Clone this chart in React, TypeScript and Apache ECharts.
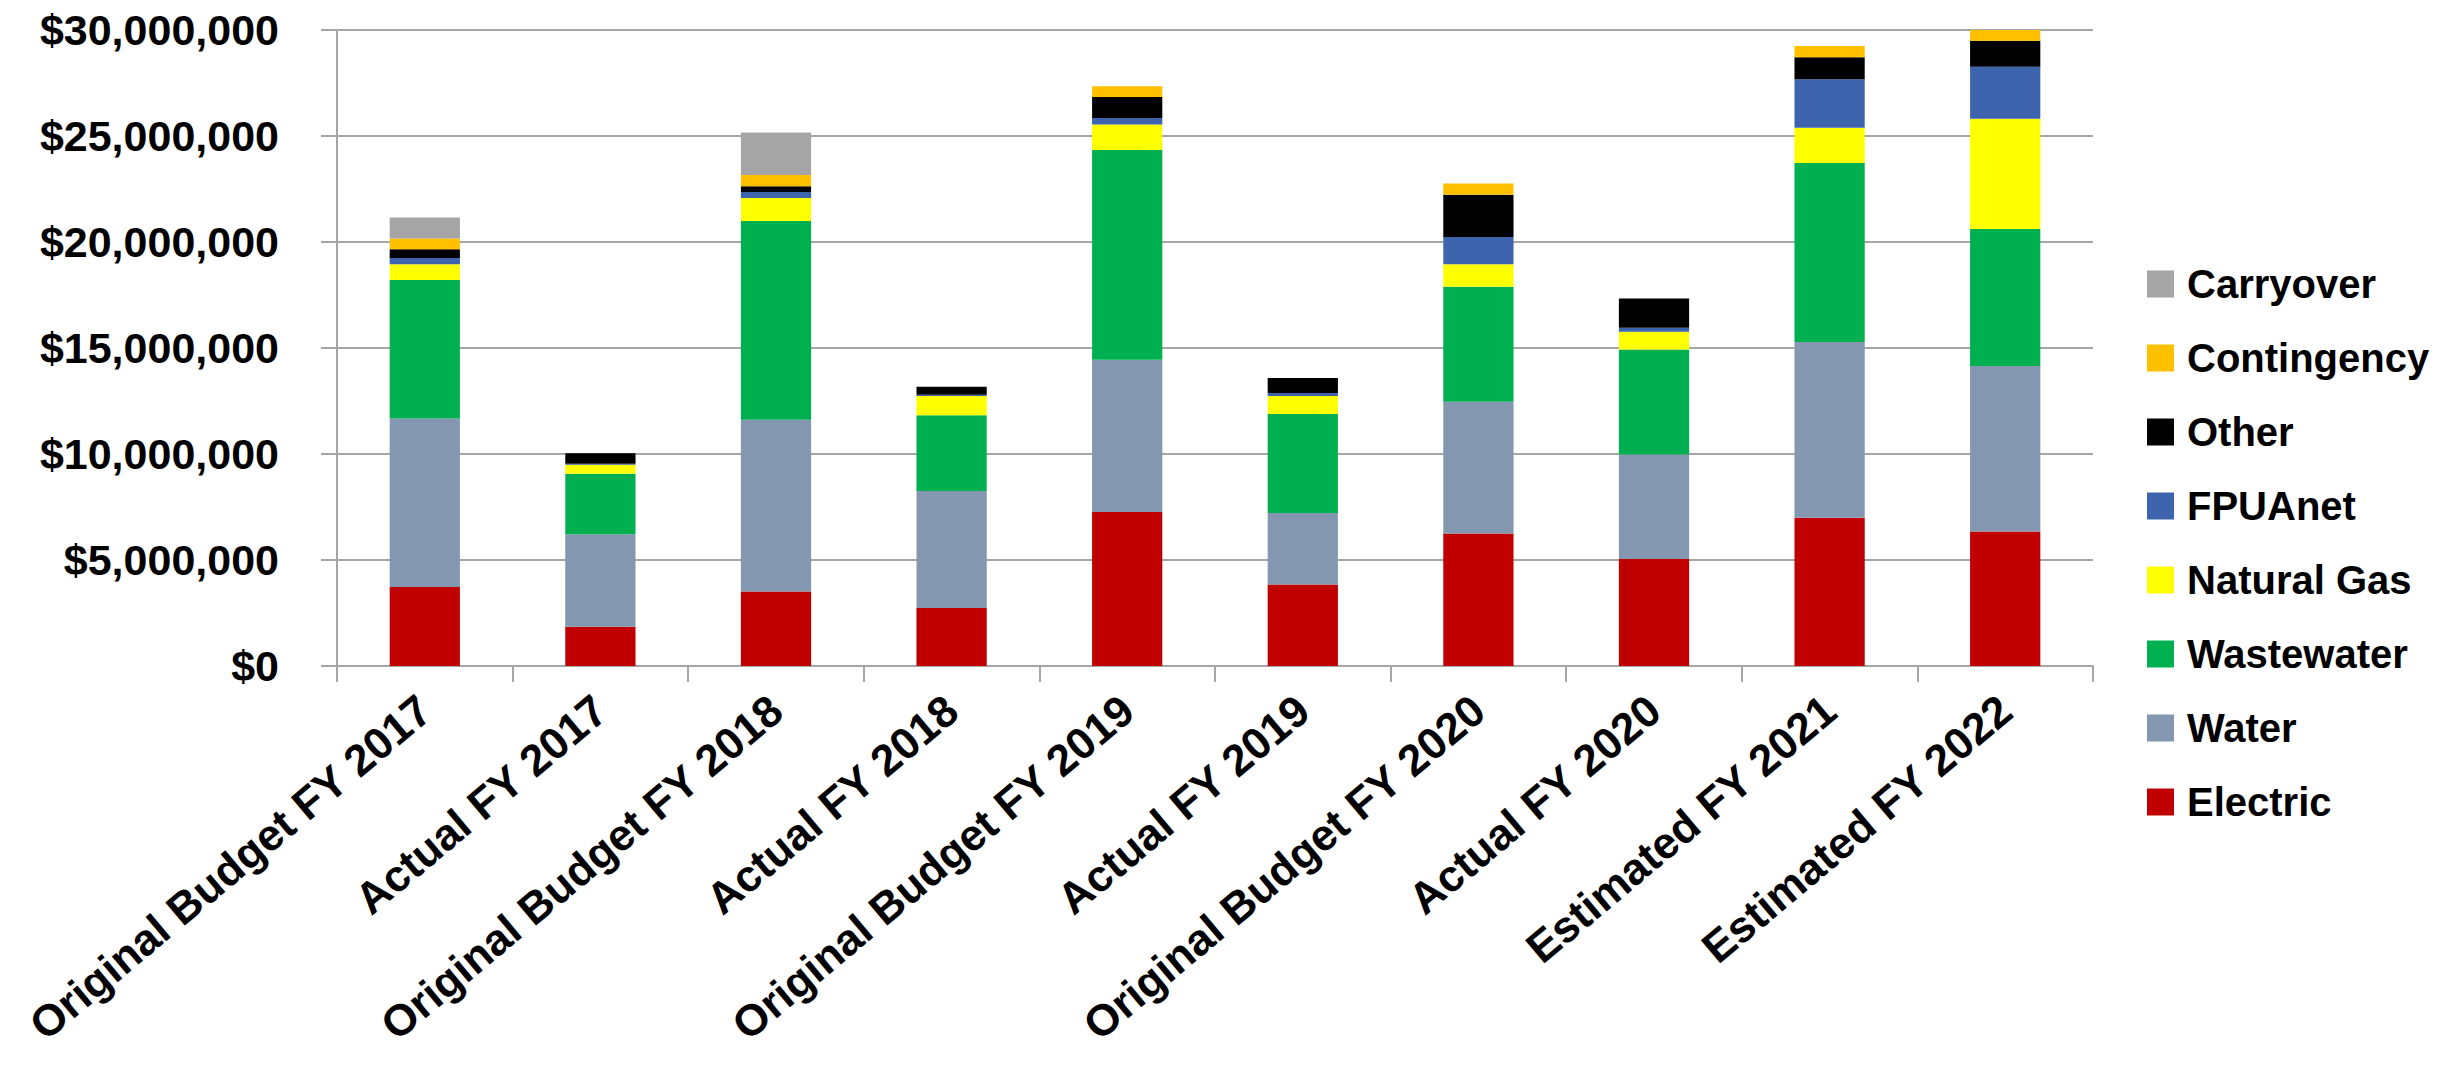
import React, { useEffect, useRef } from "react";
import * as echarts from "echarts";

const categories = [
  "Original Budget FY 2017",
  "Actual FY 2017",
  "Original Budget FY 2018",
  "Actual FY 2018",
  "Original Budget FY 2019",
  "Actual FY 2019",
  "Original Budget FY 2020",
  "Actual FY 2020",
  "Estimated FY 2021",
  "Estimated FY 2022",
];

const electric = [3730000, 1850000, 3520000, 2740000, 7260000, 3850000, 6250000, 5050000, 6990000, 6340000];
const water = [7950000, 4360000, 8100000, 5510000, 7180000, 3370000, 6210000, 4930000, 8290000, 7810000];
const wastewater = [6530000, 2860000, 9370000, 3580000, 9900000, 4670000, 5430000, 4950000, 8450000, 6460000];
const naturalGas = [740000, 420000, 1090000, 910000, 1200000, 850000, 1060000, 840000, 1660000, 5200000];
const fpuanet = [290000, 50000, 280000, 50000, 310000, 140000, 1280000, 190000, 2290000, 2460000];
const other = [420000, 490000, 270000, 380000, 990000, 700000, 2000000, 1370000, 1040000, 1220000];
const contingency = [510000, 0, 530000, 0, 510000, 0, 530000, 0, 520000, 510000];
const carryover = [990000, 0, 2000000, 0, 0, 0, 0, 0, 0, 0];

const yTicks = { min: 0, max: 30000000, interval: 5000000 };

const seriesDefs = [
  { name: "Electric", data: electric, color: "#C00000" },
  { name: "Water", data: water, color: "#8497B0" },
  { name: "Wastewater", data: wastewater, color: "#00B050" },
  { name: "Natural Gas", data: naturalGas, color: "#FFFF00" },
  { name: "FPUAnet", data: fpuanet, color: "#3D64AC" },
  { name: "Other", data: other, color: "#000000" },
  { name: "Contingency", data: contingency, color: "#FFC000" },
  { name: "Carryover", data: carryover, color: "#A5A5A5" },
];

const FONT = "'Liberation Sans', Arial, sans-serif";

export default function App() {
  const ref = useRef<HTMLDivElement>(null);
  useEffect(() => {
    document.body.style.margin = "0";
    const chart = echarts.init(ref.current!, null, { renderer: "svg" });
    chart.setOption({
      animation: false,
      backgroundColor: "#FFFFFF",
      grid: {
        left: 337,
        right: 360,
        top: 30,
        bottom: 400,
        containLabel: false,
        outerBoundsMode: "none",
      },
      legend: {
        orient: "vertical",
        left: 2142,
        top: 259,
        itemWidth: 27,
        itemHeight: 27,
        itemGap: 34,
        icon: "rect",
        data: seriesDefs.map((s) => s.name).reverse(),
        textStyle: {
          fontFamily: FONT,
          fontWeight: "bold",
          fontSize: 40,
          color: "#000",
          padding: [0, 0, 0, 8],
        },
      },
      xAxis: {
        type: "category",
        data: categories,
        axisLine: { lineStyle: { color: "#A6A6A6", width: 2 } },
        axisTick: { show: true, length: 16, lineStyle: { color: "#A6A6A6", width: 2 } },
        axisLabel: {
          rotate: 40,
          interval: 0,
          margin: 38,
          fontFamily: FONT,
          fontWeight: "bold",
          fontSize: 44,
          color: "#000",
        },
      },
      yAxis: {
        type: "value",
        min: yTicks.min,
        max: yTicks.max,
        interval: yTicks.interval,
        axisLine: { show: true, lineStyle: { color: "#A6A6A6", width: 2 } },
        axisTick: { show: true, length: 16, lineStyle: { color: "#A6A6A6", width: 2 } },
        splitLine: { show: true, lineStyle: { color: "#A6A6A6", width: 2 } },
        axisLabel: {
          margin: 58,
          fontFamily: FONT,
          fontWeight: "bold",
          fontSize: 43,
          color: "#000",
          formatter: (v: number) => "$" + v.toLocaleString("en-US"),
        },
      },
      series: seriesDefs.map((s) => ({
        name: s.name,
        type: "bar",
        stack: "total",
        barWidth: "40%",
        data: s.data,
        itemStyle: { color: s.color },
      })),
    });
    return () => chart.dispose();
  }, []);
  return <div ref={ref} style={{ width: 2453, height: 1066 }} />;
}
